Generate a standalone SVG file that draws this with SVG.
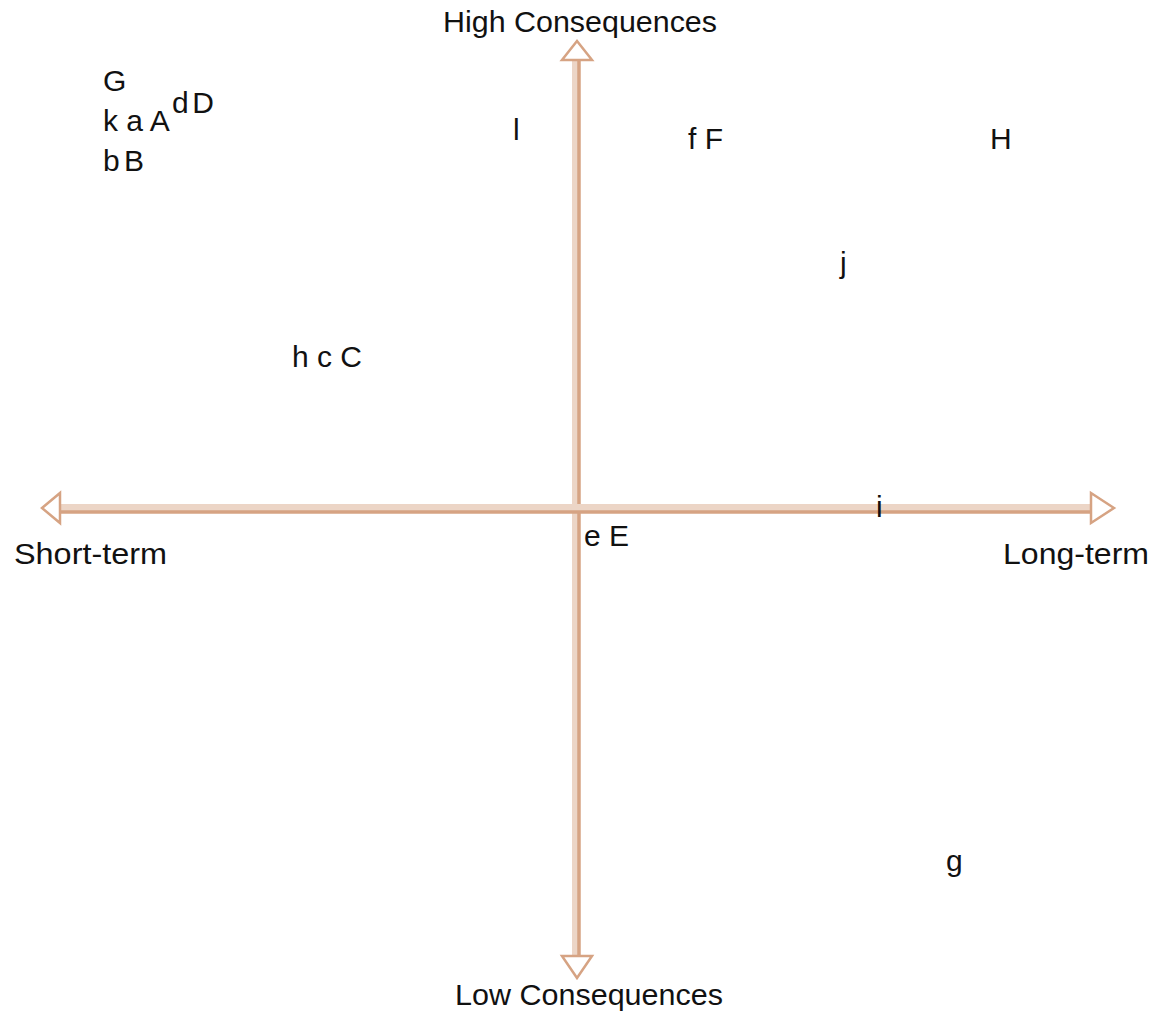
<svg xmlns="http://www.w3.org/2000/svg" width="1149" height="1013" viewBox="0 0 1149 1013">
<style>
text{font-family:"Liberation Sans",Arial,sans-serif;font-size:30px;fill:#111}
.shaft{fill:#ecd5c6}
.edge{stroke:#d6a383;stroke-width:3.5;fill:none}
.head{fill:#fff;stroke:#d6a383;stroke-width:2.5;stroke-linejoin:miter}
</style>
<rect width="1149" height="1013" fill="#fff"/>
<g id="connectors">
<g id="axis-vertical">
<rect class="shaft" x="572" y="60" width="8" height="896"/>
<line class="edge" x1="579" y1="60" x2="579" y2="956"/>
<polygon class="head" points="577,41 562,60 592,60"/>
<polygon class="head" points="577,978 562,956 592,956"/>
</g>
<g id="axis-horizontal">
<rect class="shaft" x="60" y="504" width="1031" height="9"/>
<line class="edge" x1="60" y1="512" x2="1091" y2="512"/>
<polygon class="head" points="42,508 60,493 60,523"/>
<polygon class="head" points="1114,508 1091,493 1091,523"/>
</g>
</g>
<g id="label-high"><text x="443" y="32" textLength="274" lengthAdjust="spacingAndGlyphs">High Consequences</text></g>
<g id="label-low"><text x="455" y="1005" textLength="268" lengthAdjust="spacingAndGlyphs">Low Consequences</text></g>
<g id="label-short"><text x="14" y="564" textLength="153" lengthAdjust="spacingAndGlyphs">Short-term</text></g>
<g id="label-long"><text x="1003" y="564" textLength="146" lengthAdjust="spacingAndGlyphs">Long-term</text></g>
<g id="node-G"><text x="103" y="91">G</text></g>
<g id="node-kaA"><text x="103" y="131">k a A</text></g>
<g id="node-dD"><text x="172" y="113" textLength="42" lengthAdjust="spacing">d D</text></g>
<g id="node-bB"><text x="103" y="171" textLength="41" lengthAdjust="spacing">b B</text></g>
<g id="node-l"><text x="513" y="140">l</text></g>
<g id="node-fF"><text x="688" y="149">f F</text></g>
<g id="node-H"><text x="990" y="149">H</text></g>
<g id="node-j"><text x="840" y="273">j</text></g>
<g id="node-hcC"><text x="292" y="367">h c C</text></g>
<g id="node-i"><text x="876" y="517">i</text></g>
<g id="node-eE"><text x="584" y="546">e E</text></g>
<g id="node-g"><text x="946" y="871">g</text></g>
</svg>
